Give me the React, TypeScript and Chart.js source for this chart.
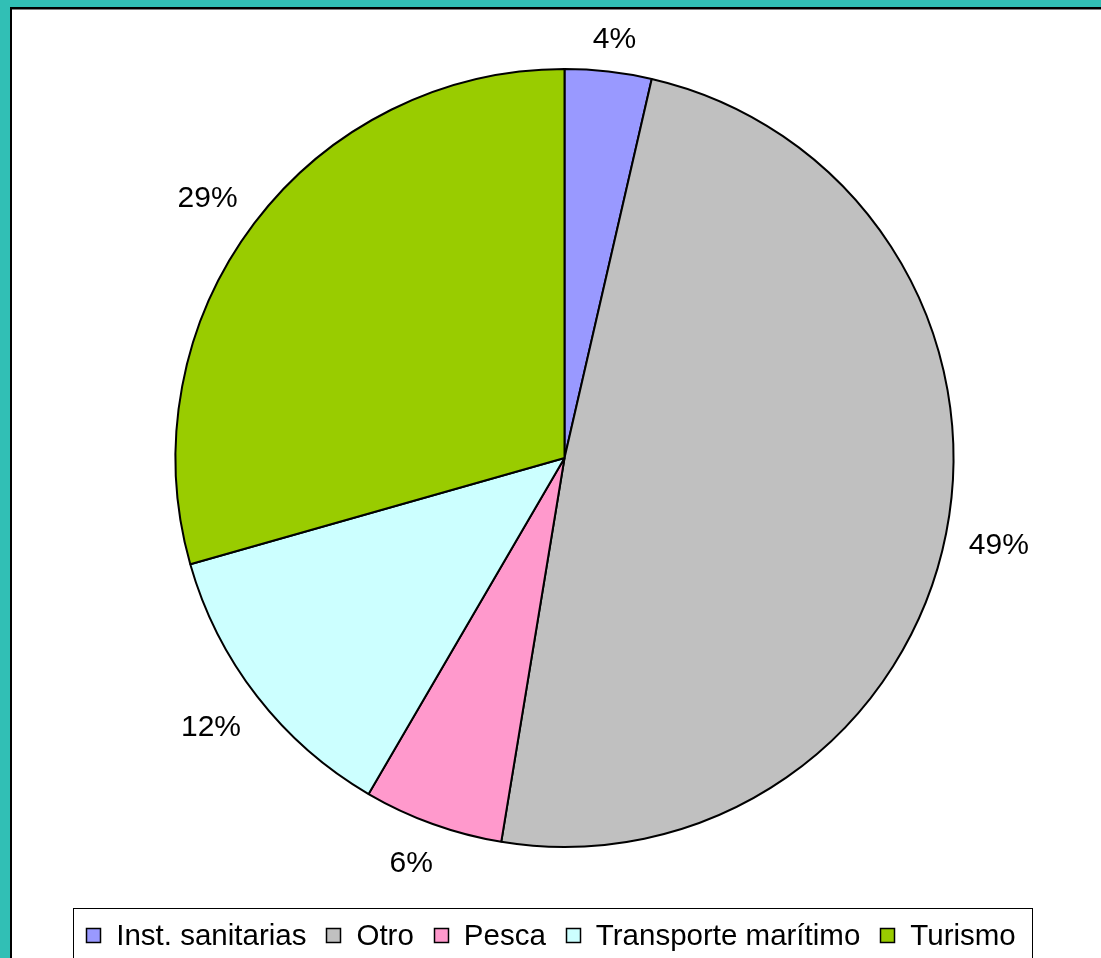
import React, { useEffect, useRef } from "react";
import { Chart, registerables } from "chart.js";

Chart.register(...registerables);

const categories = ["Inst. sanitarias", "Otro", "Pesca", "Transporte marítimo", "Turismo"];
const shares = [3.6, 49.0, 5.8, 12.2, 29.4];
const sliceColors = ["#9999FF", "#C0C0C0", "#FF99CC", "#CCFFFF", "#99CC00"];

const FONT = '"Liberation Sans", Arial, sans-serif';

const framePlugin = {
  id: "frame",
  beforeDraw(chart: any) {
    const { ctx, width, height } = chart;
    ctx.save();
    ctx.fillStyle = "#31BFB5";
    ctx.fillRect(0, 0, width, height);
    ctx.fillStyle = "#000000";
    ctx.fillRect(10, 7, width, height);
    ctx.fillStyle = "#808080";
    ctx.fillRect(12, 9, width, 1);
    ctx.fillStyle = "#FFFFFF";
    ctx.fillRect(12, 10, width, height);
    ctx.restore();
  },
};

const labelPlugin = {
  id: "pctLabels",
  afterDatasetsDraw(chart: any) {
    const { ctx } = chart;
    const meta = chart.getDatasetMeta(0);
    const data = chart.data.datasets[0].data as number[];
    const total = data.reduce((a, b) => a + b, 0);
    ctx.save();
    ctx.font = `30px ${FONT}`;
    ctx.fillStyle = "#000000";
    ctx.textAlign = "center";
    ctx.textBaseline = "middle";
    meta.data.forEach((arc: any, i: number) => {
      const p = arc.getProps(["x", "y", "startAngle", "endAngle", "outerRadius"], true);
      const mid = (p.startAngle + p.endAngle) / 2;
      const d = p.outerRadius + 34 + 18 * Math.abs(Math.cos(mid));
      const side = Math.cos(mid) < 0 ? -8 : 2;
      const x = p.x + Math.cos(mid) * d + side;
      const y = p.y + Math.sin(mid) * d + 2 + (Math.sin(mid) < 0 ? 2 : 0);
      ctx.fillText(`${Math.round((data[i] / total) * 100)}%`, x, y);
    });
    ctx.restore();
  },
};

const legendPlugin = {
  id: "boxLegend",
  afterDraw(chart: any) {
    const { ctx } = chart;
    const labels = chart.data.labels as string[];
    const colors = chart.data.datasets[0].backgroundColor as string[];
    ctx.save();
    ctx.font = `29.5px ${FONT}`;
    const box = 15;
    const gapText = 15;
    const gapItem = 20;
    const widths = labels.map((l) => ctx.measureText(l).width);
    const total = widths.reduce((a, w) => a + box + gapText + w, 0) + gapItem * (labels.length - 1);
    const frameL = 73;
    const frameR = 1032;
    const frameT = 908;
    ctx.strokeStyle = "#000000";
    ctx.lineWidth = 1;
    ctx.fillStyle = "#FFFFFF";
    ctx.fillRect(frameL, frameT, frameR - frameL, 80);
    ctx.strokeRect(frameL + 0.5, frameT + 0.5, frameR - frameL, 80);
    let x = (frameL + frameR) / 2 - 1.5 - total / 2;
    const cy = 935.5;
    ctx.textAlign = "left";
    ctx.textBaseline = "middle";
    labels.forEach((l, i) => {
      const bx = Math.round(x);
      const by = Math.round(cy - box / 2);
      ctx.fillStyle = colors[i];
      ctx.fillRect(bx, by, box, box);
      ctx.strokeStyle = "#000000";
      ctx.lineWidth = 1.5;
      ctx.strokeRect(bx + 0.5, by + 0.5, box - 1, box - 1);
      ctx.fillStyle = "#000000";
      ctx.fillText(l, x + box + gapText, cy + 1);
      x += box + gapText + widths[i] + gapItem;
    });
    ctx.restore();
  },
};

export default function App() {
  const ref = useRef<HTMLCanvasElement | null>(null);
  useEffect(() => {
    if (!ref.current) return;
    const chart = new Chart(ref.current, {
      type: "pie",
      data: {
        labels: categories,
        datasets: [
          {
            data: shares,
            backgroundColor: sliceColors,
            borderColor: "#000000",
            borderWidth: 2,
            radius: 389,
          } as any,
        ],
      },
      options: {
        responsive: false,
        animation: false,
        devicePixelRatio: 1,
        layout: { padding: { left: 28, right: 0, top: 0, bottom: 42 } },
        plugins: {
          legend: { display: false },
          tooltip: { enabled: false },
        },
      },
      plugins: [framePlugin, labelPlugin, legendPlugin],
    });
    return () => chart.destroy();
  }, []);
  return (
    <div style={{ position: "absolute", left: 0, top: 0, width: 1101, height: 958 }}>
      <canvas ref={ref} width={1101} height={958} style={{ display: "block", width: 1101, height: 958 }} />
    </div>
  );
}
